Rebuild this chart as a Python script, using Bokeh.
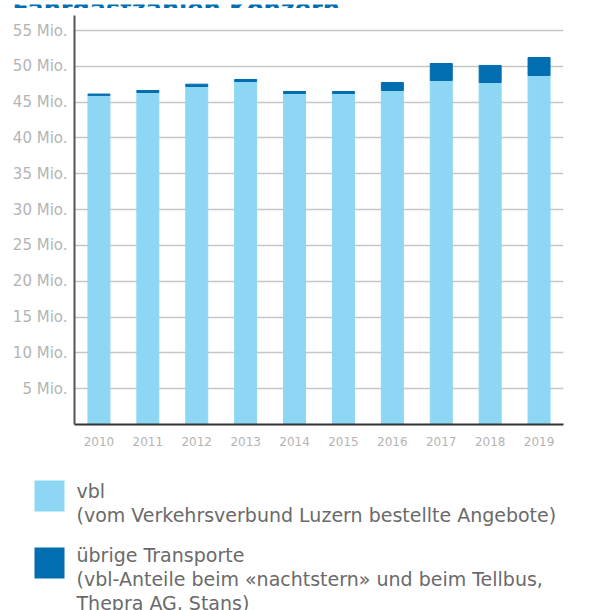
from bokeh.plotting import figure
from bokeh.models import ColumnDataSource, FixedTicker, Range1d
from bokeh.layouts import column, row
from bokeh.core.properties import value
from bokeh.embed import file_html
from bokeh.resources import INLINE

years = ["2010", "2011", "2012", "2013", "2014", "2015", "2016", "2017", "2018", "2019"]
vbl = [45.95, 46.35, 47.19, 47.89, 46.22, 46.22, 46.63, 48.03, 47.75, 48.73]
totals = [46.13, 46.63, 47.51, 48.17, 46.49, 46.49, 47.75, 50.40, 50.13, 51.24]
uebrige = [round(t - v, 2) for t, v in zip(totals, vbl)]
y_ticks = [5, 10, 15, 20, 25, 30, 35, 40, 45, 50, 55]
y_tick_labels = {t: f"{t} Mio." for t in y_ticks}
title_text = "Fahrgastzahlen Konzern"
legend_labels = [
    ["vbl", "(vom Verkehrsverbund Luzern bestellte Angebote)"],
    ["übrige Transporte", "(vbl-Anteile beim «nachtstern» und beim Tellbus,", "Thepra AG, Stans)"],
]

LIGHT = "#8dd7f5"
DARK = "#006eb0"
FONT = "DejaVu Sans"
Y_TOP = 57.1
W = 592


def blank(height):
    f = figure(width=W, height=height, x_range=Range1d(0, W), y_range=Range1d(height, 0),
               x_axis_type=None, y_axis_type=None,
               output_backend="svg", toolbar_location=None,
               min_border=0, min_border_left=0, min_border_right=0,
               min_border_top=0, min_border_bottom=0)
    f.grid.visible = False
    f.outline_line_color = None
    return f


# heading strip: only the lower edge of the heading shows, as in the reference
head = blank(8)
head.text(x=[12], y=[4], text=[title_text], text_font=value(FONT), text_font_style="bold",
          text_font_size="24px", text_color=DARK, text_baseline="alphabetic")

src = ColumnDataSource(dict(years=years, vbl=vbl, uebrige=uebrige))

p = figure(width=W, height=452, x_range=years, y_range=Range1d(0, Y_TOP),
           output_backend="svg", toolbar_location=None,
           min_border_left=74, min_border_right=29, min_border_top=7, min_border_bottom=36)
p.x_range.range_padding = 0
p.vbar_stack(["vbl", "uebrige"], x="years", width=0.45, color=[LIGHT, DARK], source=src)

p.outline_line_color = None
p.xgrid.grid_line_color = None
p.ygrid.ticker = FixedTicker(ticks=y_ticks)
p.ygrid.grid_line_color = "#c6c6c6"
p.ygrid.grid_line_width = 1.5

p.yaxis.ticker = FixedTicker(ticks=y_ticks)
p.yaxis.major_label_overrides = y_tick_labels
p.yaxis.axis_line_color = "#555555"
p.yaxis.axis_line_width = 2
p.yaxis.major_tick_line_color = None
p.yaxis.minor_tick_line_color = None
p.yaxis.major_label_text_color = "#b4b4b4"
p.yaxis.major_label_text_font = FONT
p.yaxis.major_label_text_font_size = "15px"
p.yaxis.major_label_standoff = 1

p.xaxis.axis_line_color = "#333333"
p.xaxis.axis_line_width = 2
p.xaxis.major_tick_line_color = None
p.xaxis.minor_tick_line_color = None
p.xaxis.major_label_text_color = "#b4b4b4"
p.xaxis.major_label_text_font = FONT
p.xaxis.major_label_text_font_size = "12px"
p.xaxis.major_label_standoff = 6

# legend strip (pixel coordinates)
lg = blank(150)
colors = [LIGHT, DARK]
lg.quad(left=[34, 34], right=[64, 64], top=[20, 87], bottom=[51, 118], color=colors, line_color=None)
tx, ty, tt = [], [], []
for i, lines in enumerate(legend_labels):
    for j, line in enumerate(lines):
        tx.append(76)
        ty.append(30 + i * 64 + j * 24)
        tt.append(line)
lg.text(x=tx, y=ty, text=tt, text_font=value(FONT), text_font_size="19px",
        text_color="#6a6a6a", text_baseline="alphabetic")

layout = column(row(head), row(p), row(lg), spacing=0)
open("out.html", "w").write(file_html(layout, INLINE))
